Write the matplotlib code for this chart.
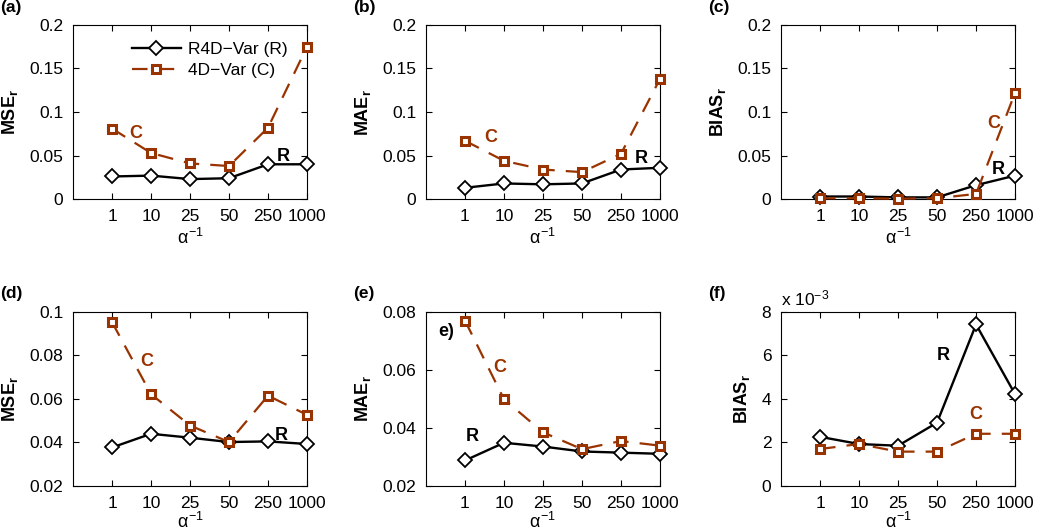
import numpy as np
import matplotlib
matplotlib.use('Agg')
import matplotlib.pyplot as plt

plt.rcParams['font.family'] = ['Liberation Sans', 'DejaVu Sans']
plt.rcParams['mathtext.fontset'] = 'custom'
plt.rcParams['mathtext.rm'] = 'Liberation Sans'
plt.rcParams['mathtext.it'] = 'Liberation Sans'
plt.rcParams['mathtext.bf'] = 'Liberation Sans:bold'

# x axis: inverse alpha values
alpha_inv = ['1', '10', '25', '50', '250', '1000']

# top row
mse_r_top = [0.026, 0.027, 0.023, 0.024, 0.040, 0.040]
mse_c_top = [0.081, 0.053, 0.041, 0.038, 0.082, 0.175]
mae_r_top = [0.013, 0.018, 0.017, 0.018, 0.034, 0.036]
mae_c_top = [0.067, 0.044, 0.034, 0.031, 0.052, 0.138]
bias_r_top = [0.003, 0.003, 0.002, 0.002, 0.016, 0.027]
bias_c_top = [0.001, 0.001, 0.0005, 0.001, 0.006, 0.122]

# bottom row
mse_r_bot = [0.0377, 0.0440, 0.0422, 0.0402, 0.0405, 0.0393]
mse_c_bot = [0.0953, 0.0622, 0.0478, 0.0402, 0.0615, 0.0527]
mae_r_bot = [0.0288, 0.0349, 0.0336, 0.0319, 0.0315, 0.0311]
mae_c_bot = [0.0770, 0.0499, 0.0385, 0.0327, 0.0355, 0.0339]
# bias in units of 1e-3
bias_r_bot = [2.26, 1.93, 1.85, 2.91, 7.42, 4.22]
bias_c_bot = [1.70, 1.93, 1.58, 1.58, 2.40, 2.40]

brown = '#993300'
x = np.arange(1, len(alpha_inv) + 1)

fig = plt.figure(figsize=(10.4, 5.31), dpi=100)

lefts = [0.0702, 0.4096, 0.751]
w = 0.225
h = 0.328
bottoms = [0.625, 0.0847]

panels = [
    # (row, col, label, ylabel, r, c, ylim, yticks, yticklabels, texts)
    (0, 0, '(a)', 'MSE', mse_r_top, mse_c_top, (0, 0.2),
     [0, 0.05, 0.1, 0.15, 0.2], ['0', '0.05', '0.1', '0.15', '0.2'],
     [('C', 1.62, 0.0757, brown), ('R', 5.38, 0.049, 'k')]),
    (0, 1, '(b)', 'MAE', mae_r_top, mae_c_top, (0, 0.2),
     [0, 0.05, 0.1, 0.15, 0.2], ['0', '0.05', '0.1', '0.15', '0.2'],
     [('C', 1.67, 0.0707, brown), ('R', 5.53, 0.047, 'k')]),
    (0, 2, '(c)', 'BIAS', bias_r_top, bias_c_top, (0, 0.2),
     [0, 0.05, 0.1, 0.15, 0.2], ['0', '0.05', '0.1', '0.15', '0.2'],
     [('C', 5.45, 0.087, brown), ('R', 5.58, 0.034, 'k')]),
    (1, 0, '(d)', 'MSE', mse_r_bot, mse_c_bot, (0.02, 0.1),
     [0.02, 0.04, 0.06, 0.08, 0.1], ['0.02', '0.04', '0.06', '0.08', '0.1'],
     [('C', 1.89, 0.077, brown), ('R', 5.34, 0.0434, 'k')]),
    (1, 1, '(e)', 'MAE', mae_r_bot, mae_c_bot, (0.02, 0.08),
     [0.02, 0.04, 0.06, 0.08], ['0.02', '0.04', '0.06', '0.08'],
     [('e)', 0.52, 0.0733, 'k'), ('C', 1.89, 0.0607, brown), ('R', 1.2, 0.037, 'k')]),
    (1, 2, '(f)', 'BIAS', bias_r_bot, bias_c_bot, (0, 8),
     [0, 2, 4, 6, 8], ['0', '2', '4', '6', '8'],
     [('R', 4.17, 6.0, 'k'), ('C', 5.0, 3.3, brown)]),
]

for row, col, label, ylab, r_vals, c_vals, ylim, yt, ytl, texts in panels:
    ax = fig.add_axes([lefts[col], bottoms[row], w, h])
    ax.plot(x, r_vals, color='k', lw=1.7, marker='D', ms=7,
            mfc='white', mec='k', mew=1.3, label='R4D\u2212Var (R)',
            zorder=3, clip_on=False)
    ax.plot(x, c_vals, color=brown, lw=1.6, ls=(0, (7, 5)), marker='s', ms=6,
            mfc='white', mec=brown, mew=2.2, label='4D\u2212Var (C)',
            zorder=3, clip_on=False)
    ax.set_xlim(0, 6)
    ax.set_ylim(*ylim)
    ax.set_xticks(x)
    ax.set_xticklabels(alpha_inv)
    ax.set_yticks(yt)
    ax.set_yticklabels(ytl)
    ax.tick_params(direction='in', top=True, right=True, labelsize=12.5,
                   length=4, width=0.8, pad=7)
    for sp in ax.spines.values():
        sp.set_linewidth(0.8)
    ax.set_xlabel(r'$\alpha^{-1}$', fontsize=13, labelpad=3 if row == 0 else 1)
    ax.set_ylabel(ylab + r'$_\mathbf{r}$', fontsize=13, fontweight='bold',
                  labelpad=7)
    ax.text(-0.31, 1.06, label, transform=ax.transAxes, fontsize=12.5,
            fontweight='bold', ha='left', va='bottom')
    for s, tx, ty, tc in texts:
        ax.text(tx, ty, s, color=tc, fontsize=13, fontweight='bold',
                ha='center', va='center')
    if label == '(a)':
        ax.legend(loc='upper left', bbox_to_anchor=(0.2, 0.975), frameon=False,
                  fontsize=12.5, handlelength=2.8, borderaxespad=0.3,
                  labelspacing=0.35, handletextpad=0.4)
    if label == '(f)':
        ax.text(0.0, 1.02, r'x 10$^{-3}$', transform=ax.transAxes,
                fontsize=12.5, ha='left', va='bottom')

fig.savefig('out.png', dpi=100)
